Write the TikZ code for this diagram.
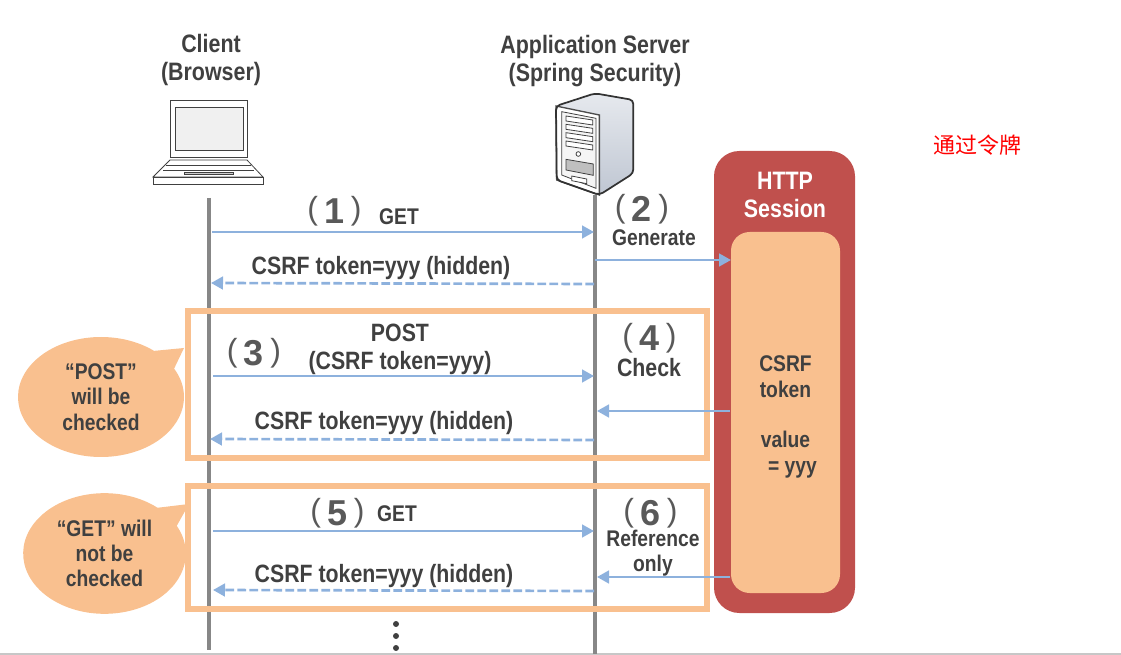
\documentclass[tikz,border=0pt]{standalone}
\usepackage{fontspec}
\setmainfont[FakeStretch=0.85]{Liberation Sans}
\newfontfamily\cjkfont{Noto Sans CJK SC}
\newfontfamily\digitfont[FakeStretch=1.0]{Liberation Sans}
\usetikzlibrary{shapes.callouts,arrows.meta}

\definecolor{msgblue}{HTML}{8DB1DD}
\definecolor{frameorange}{HTML}{F9C08F}
\definecolor{sessionred}{HTML}{C0504D}
\definecolor{linegray}{HTML}{878787}
\definecolor{textgray}{HTML}{404040}
\definecolor{numgray}{HTML}{595959}
\definecolor{sideTop}{HTML}{E6E9EE}
\definecolor{sideEnd}{HTML}{BFC6D2}

\newcommand{\steppar}[1]{\raisebox{3pt}[0pt][0pt]{\fontsize{24}{24}\selectfont #1}}
\newcommand{\stepnum}[1]{\raisebox{0pt}[19.3pt][0pt]{\steppar{(}\hspace{4.8pt}{\bfseries #1}\hspace{4.8pt}\steppar{)}}}
\newcommand{\bubbleline}[1]{\raisebox{-3pt}{#1}}

\tikzset{
  label/.style={align=center,inner sep=0pt,text=textgray,font=\bfseries\fontsize{18.8}{21}\selectfont},
  small/.style={label,font=\bfseries\fontsize{17}{19}\selectfont},
  head/.style={label,font=\bfseries\fontsize{18.9}{21}\selectfont},
  num/.style={inner sep=0pt,text=numgray,font=\digitfont\fontsize{27}{27}\selectfont},
  lifeline/.style={draw=linegray,line width=3.2pt},
  frame/.style={draw=frameorange,line width=4.9pt},
  msg/.style={-{Triangle[length=9pt,width=9.5pt]},draw=msgblue,line width=2pt},
  reply/.style={msg,dash pattern=on 6.5pt off 2.5pt},
  bubble/.style={ellipse callout,fill=frameorange,inner sep=0pt,align=center,text=textgray,
    font=\bfseries\fontsize{17}{19}\selectfont,callout pointer arc=22},
  gear/.style={draw=black!75,line width=.6pt}
}

\begin{document}
\begin{tikzpicture}[x=0.75pt,y=-0.75pt]
\useasboundingbox (0,0) rectangle (1121,655);
\coordinate (edgeL) at (0,654);
\coordinate (edgeR) at (1121,654);
\path [-,draw=black!22,line width=1.2pt] (edgeL) edge (edgeR);

% titles
\node[head] (client) at (211,60) {Client\\(Browser)};
\node[head] (server) at (595,61) {Application Server\\(Spring Security)};
\node[inner sep=0pt,text=red,font=\cjkfont\fontsize{16.5}{18}\selectfont] (note) at (977,145) {通过令牌};

% laptop
\draw[gear,fill=white] (170,100) rectangle (247,157);
\draw[gear,fill=black!6] (175,107) rectangle (243,150);
\draw[gear,fill=white] (170,160) -- (247,160) -- (263,177) -- (153,177) -- cycle;
\draw[gear,fill=white] (153,177) rectangle (263,184);
\draw[gear] (166,165) -- (251,165);
\draw[gear] (163,170) -- (254,170);
\draw[gear,fill=black!20] (184,172) rectangle (233,174);

% server
\begin{scope}[shift={(540,90)},x=0.25pt,y=-0.25pt]
\shade[top color=sideTop,bottom color=sideEnd] (48,48) -- (165,10) -- (280,30) -- (280,250) -- (178,315) -- (178,75) -- cycle;
\draw[draw=black!70,line width=1pt,fill=white] (48,48) -- (178,75) -- (178,315) -- (50,270) -- cycle;
\draw[draw=black!80,line width=1.3pt,rounded corners=3pt] (48,48) -- (165,10) -- (280,30) -- (280,250) -- (178,315) -- (50,270) -- cycle;
\draw[gear,fill=black!4] (65,65) -- (168,85) -- (168,295) -- (65,255) -- cycle;
\draw[gear,fill=white] (78,78) -- (158,90) -- (158,105) -- (78,93) -- cycle;
\draw[gear,fill=white] (78,103) -- (158,115) -- (158,130) -- (78,118) -- cycle;
\draw[gear,fill=white] (78,128) -- (158,140) -- (158,155) -- (78,143) -- cycle;
\draw[gear,fill=white] (78,153) -- (158,165) -- (158,180) -- (78,168) -- cycle;
\draw[gear,fill=white] (115,192) circle (7);
\draw[gear,fill=black!25] (78,208) -- (160,222) -- (160,256) -- (78,240) -- cycle;
\draw[gear,fill=white] (95,258) -- (140,267) -- (140,281) -- (95,272) -- cycle;
\end{scope}

% lifelines
\coordinate (cTop) at (209,198);
\coordinate (cEnd) at (209,650);
\coordinate (sTop) at (595,195);
\coordinate (sEnd) at (595,654);
\path [-,lifeline] (cTop) edge (cEnd);
\path [-,lifeline] (sTop) edge (sEnd);

% frames
\node[frame,minimum width=389pt,minimum height=110pt,inner sep=0pt] (frameA) at (447.5,384.5) {};
\node[frame,minimum width=389pt,minimum height=92pt,inner sep=0pt] (frameB) at (447.5,547.5) {};

% session
\node[fill=sessionred,rounded corners=19pt,minimum width=105.75pt,minimum height=346.5pt,inner sep=0pt] (session) at (784.5,382) {};
\node[fill=frameorange,rounded corners=14pt,minimum width=81.75pt,minimum height=270.75pt,inner sep=0pt] (token) at (785.5,412.5) {};
\node[head,text=white] (sessionT) at (785,195) {HTTP\\Session};
\node[small] (tokenT) at (785.5,417) {CSRF\\token\\ \\value\\\hspace*{10.5pt}= yyy};

% messages
\coordinate (m1a) at (212,232);
\coordinate (m1b) at (594,232);
\coordinate (m2a) at (594,284);
\coordinate (m2b) at (211,283);
\coordinate (g1a) at (595,260);
\coordinate (g1b) at (731,260);
\coordinate (m3a) at (213,376);
\coordinate (m3b) at (594,376);
\coordinate (m4a) at (594,440);
\coordinate (m4b) at (210,439);
\coordinate (g2a) at (730,411);
\coordinate (g2b) at (597,411);
\coordinate (m5a) at (213,531);
\coordinate (m5b) at (594,531);
\coordinate (m6a) at (594,591);
\coordinate (m6b) at (213,590);
\coordinate (g3a) at (730,577);
\coordinate (g3b) at (597,577);
\draw [msg] (m1a) -- (m1b);
\draw [reply] (m2a) -- (m2b);
\draw [msg] (g1a) -- (g1b);
\draw [msg] (m3a) -- (m3b);
\draw [reply] (m4a) -- (m4b);
\draw [msg] (g2a) -- (g2b);
\draw [msg] (m5a) -- (m5b);
\draw [reply] (m6a) -- (m6b);
\draw [msg] (g3a) -- (g3b);

% labels
\node[num] (n1) at (334.5,211) {\stepnum{1}};
\node[small] (get1) at (399,217) {GET};
\node[num] (n2) at (642,209) {\stepnum{2}};
\node[small] (gen) at (654,238) {Generate};
\node[label] (tok1) at (381,268) {CSRF token=yyy (hidden)};
\node[label] (post) at (400,349) {POST\\(CSRF token=yyy)};
\node[num] (n3) at (254,353) {\stepnum{3}};
\node[num] (n4) at (649.5,338) {\stepnum{4}};
\node[label] (check) at (649,368) {Check};
\node[label] (tok2) at (384,423) {CSRF token=yyy (hidden)};
\node[num] (n5) at (337.5,513) {\stepnum{5}};
\node[small] (get2) at (397,514) {GET};
\node[num] (n6) at (650.5,513) {\stepnum{6}};
\node[small] (refonly) at (653,553) {Reference\\only};
\node[label] (tok3) at (384,576) {CSRF token=yyy (hidden)};

% callouts
\coordinate (tipA) at (184,348);
\coordinate (tipB) at (189,504);
\node[bubble,minimum width=124.5pt,minimum height=90pt,callout absolute pointer={(tipA)}] (bubbleA) at (101,397) {\bubbleline{“POST”}\\\bubbleline{will be}\\\bubbleline{checked}};
\node[bubble,minimum width=122pt,minimum height=90.5pt,callout absolute pointer={(tipB)}] (bubbleB) at (104.5,553.5) {\bubbleline{“GET” will}\\\bubbleline{not be}\\\bubbleline{checked}};

% dots
\fill[textgray] (396,624) circle (3);
\fill[textgray] (396,636) circle (3);
\fill[textgray] (396,648) circle (3);
\end{tikzpicture}
\end{document}
